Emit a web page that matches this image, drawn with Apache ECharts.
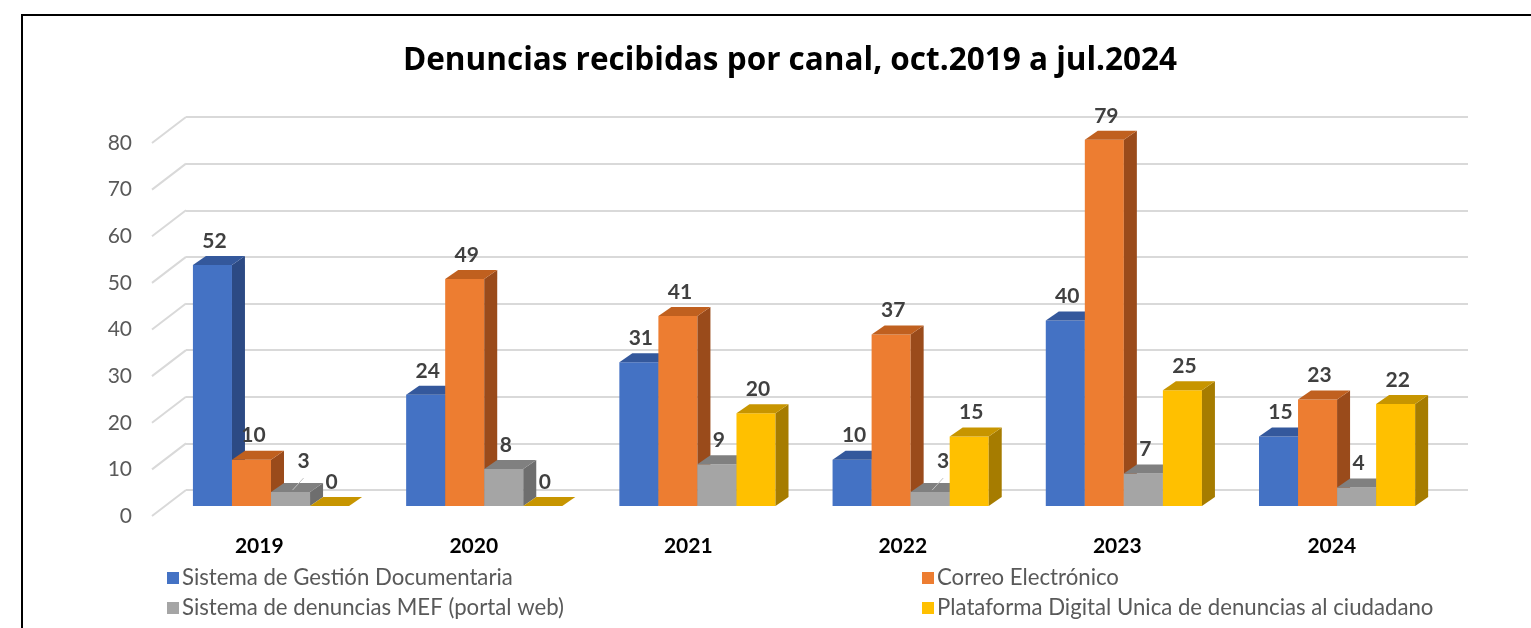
<!DOCTYPE html>
<html>
<head>
<meta charset="utf-8">
<script src="https://cdn.jsdelivr.net/npm/echarts@6/dist/echarts.min.js"></script>
<style>
  html, body { margin: 0; padding: 0; background: #fff; }
  #chart { width: 1531px; height: 628px; }
</style>
</head>
<body>
<div id="chart"></div>
<script>
// datos
const years = ['2019', '2020', '2021', '2022', '2023', '2024']
const channelNames = [
  'Sistema de Gestión Documentaria',
  'Correo Electrónico',
  'Sistema de denuncias MEF (portal web)',
  'Plataforma Digital Unica de denuncias al ciudadano'
]
const gestionDoc = [52, 24, 31, 10, 40, 15]
const correo = [10, 49, 41, 37, 79, 23]
const mefWeb = [3, 8, 9, 3, 7, 4]
const plataforma = [0, 0, 20, 15, 25, 22]
const yTicks = [0, 10, 20, 30, 40, 50, 60, 70, 80]

const faces = [
  { front: '#4472C4', top: '#34589C', side: '#2C4A84' },
  { front: '#ED7D31', top: '#C0601F', side: '#9A4B1B' },
  { front: '#A5A5A5', top: '#808080', side: '#6E6E6E' },
  { front: '#FFC000', top: '#C79500', side: '#A67C00' }
]

const FONT = 'Lato, "Open Sans", sans-serif'
const DX = 12.4, DY = -10 // bar front offset from the front plane
const PERSP = 0.994 // bars sit a bit deeper, so slightly smaller
const TX = 13, TY = -9 // bar depth
const WALL_DX = 34, WALL_DY = -26

const chart = echarts.init(document.getElementById('chart'))

const barRender = (idx) => (params, api) => {
  const cat = api.value(0)
  const v = api.value(1)
  const ox = params.coordSys.x
  const base = api.coord([cat, 0])
  const topPt = api.coord([cat, v])
  const band = api.size([1, 0])[0]
  const w = band * 0.182
  const cxGroup = ox + (base[0] - ox) * PERSP + DX
  const x0 = cxGroup - 2 * w + idx * w
  const y0 = base[1] + DY
  const h = (base[1] - topPt[1]) * PERSP
  const y1 = y0 - h
  const c = faces[idx]
  const children = []
  if (h > 0.5) {
    children.push({ type: 'rect', shape: { x: x0, y: y1, width: w, height: h }, style: { fill: c.front } })
    children.push({
      type: 'polygon',
      shape: { points: [[x0 + w, y0], [x0 + w, y1], [x0 + w + TX, y1 + TY], [x0 + w + TX, y0 + TY]] },
      style: { fill: c.side }
    })
  }
  children.push({
    type: 'polygon',
    shape: { points: [[x0, y1], [x0 + w, y1], [x0 + w + TX, y1 + TY], [x0 + TX, y1 + TY]] },
    style: { fill: c.top }
  })
  const cx = x0 + w / 2
  let lx = cx + 2, ly = y1 - 24
  if (v > 0 && v <= 3) {
    // etiqueta desplazada con línea guía
    lx = cx + 13
    ly = y1 - 31
    children.push({
      type: 'line',
      shape: { x1: lx, y1: y1 - 14, x2: cx + 2, y2: y1 - 2 },
      style: { stroke: '#BFBFBF', lineWidth: 1 }
    })
  }
  children.push({
    type: 'text',
    style: {
      text: String(v), x: lx, y: ly, align: 'center', verticalAlign: 'middle',
      fill: '#404040', font: 'bold 21px ' + FONT
    }
  })
  return { type: 'group', children }
}

const seriesData = [gestionDoc, correo, mefWeb, plataforma]

const legendBase = {
  orient: 'vertical', top: 562,
  icon: 'rect', itemWidth: 12, itemHeight: 12, itemGap: 8, selectedMode: false,
  textStyle: { color: '#595959', fontSize: 22.2, fontFamily: FONT, padding: [0, 0, 0, -2] }
}

const option = {
  animation: false,
  graphic: [
    {
      type: 'rect', silent: true,
      shape: { x: 22, y: 15, width: 1600, height: 700 },
      style: { fill: 'none', stroke: '#000', lineWidth: 2 }
    },
    {
      type: 'text', x: 790, y: 61,
      style: {
        text: 'Denuncias recibidas por canal, oct.2019 a jul.2024',
        align: 'center', verticalAlign: 'middle',
        font: 'bold 31.5px "Open Sans", sans-serif', fill: '#000'
      }
    }
  ],
  grid: [
    { left: 152, top: 143, width: 1287, height: 373 },
    { left: 186, top: 117, width: 1282, height: 373 }
  ],
  xAxis: [
    {
      type: 'category', gridIndex: 0, data: years,
      axisLine: { show: false }, axisTick: { show: false },
      axisLabel: { margin: 20, color: '#000', fontWeight: 'bold', fontSize: 21, fontFamily: FONT }
    },
    { type: 'value', gridIndex: 1, show: false, min: 0, max: 1 }
  ],
  yAxis: [
    {
      type: 'value', gridIndex: 0, min: 0, max: 80, interval: 10,
      axisLine: { show: false }, axisTick: { show: false }, splitLine: { show: false },
      axisLabel: { margin: 20, color: '#595959', fontSize: 21, fontFamily: FONT }
    },
    {
      type: 'value', gridIndex: 1, min: 0, max: 80, interval: 10,
      axisLine: { show: false }, axisTick: { show: false }, axisLabel: { show: false },
      splitLine: { lineStyle: { color: '#D9D9D9', width: 2 } }
    }
  ],
  legend: [
    { ...legendBase, data: [channelNames[0], channelNames[2]], left: 162 },
    { ...legendBase, data: [channelNames[1], channelNames[3]], left: 917 }
  ],
  series: [
    {
      type: 'custom', name: 'wall', xAxisIndex: 0, yAxisIndex: 0, z: 1, silent: true,
      data: yTicks.map((t) => [0, t]),
      renderItem: (params, api) => {
        const p = api.coord([0, api.value(1)])
        const x = params.coordSys.x
        return {
          type: 'line',
          shape: { x1: x, y1: p[1], x2: x + WALL_DX, y2: p[1] + WALL_DY },
          style: { stroke: '#D9D9D9', lineWidth: 2 }
        }
      }
    },
    ...seriesData.map((arr, i) => ({
      type: 'custom',
      name: channelNames[i],
      xAxisIndex: 0, yAxisIndex: 0,
      z: 10 + i,
      itemStyle: { color: faces[i].front },
      data: arr.map((v, k) => [k, v]),
      renderItem: barRender(i)
    }))
  ]
}

chart.setOption(option)
</script>
</body>
</html>
